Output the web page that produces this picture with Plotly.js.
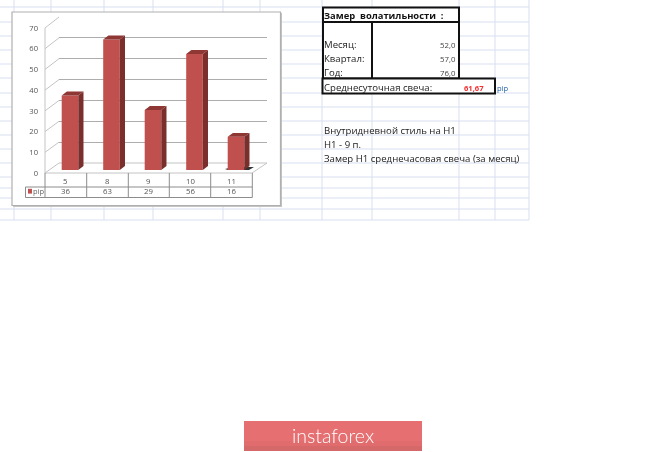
<!DOCTYPE html>
<html><head><meta charset="utf-8">
<script src="https://cdn.plot.ly/plotly-3.0.1.min.js"></script>
<style>html,body{margin:0;padding:0;background:#fff}#c{width:665px;height:452px;filter:blur(0.4px)}</style>
</head><body><div id="c"></div>
<script>
// ---- data ----
const categories = ['5','8','9','10','11'];
const pipValues = [36,63,29,56,16];
const seriesName = 'pip';
const yTicks = [0,10,20,30,40,50,60,70];
const sheetTitle = 'Замер  волатильности  :';
const rowLabels = ['Месяц:','Квартал:','Год:'];
const rowValues = ['52,0','57,0','76,0'];
const avgLabel = 'Среднесуточная свеча:';
const avgValue = '61,67';
const notes = ['Внутридневной стиль на H1','H1 - 9 п.','Замер H1 среднечасовая свеча (за месяц)'];
const brand = 'instaforex';

// ---- page geometry (pixels) ----
const W=665,H=452;
const X=p=>p/W, Y=p=>1-p/H;
const sheetH=[7,22,36,50,64,78,93,107,121,135,149,163,177,188,198,209,220];
const sheetV=[14,51,104,153,223,260,322,372,459,495,529];
const shapes=[], annotations=[];
const line=(x0,y0,x1,y1,c,w)=>shapes.push({type:'line',xref:'paper',yref:'paper',x0:X(x0),y0:Y(y0),x1:X(x1),y1:Y(y1),line:{color:c,width:w},layer:'below'});
const rect=(x0,y0,x1,y1,fill,c,w)=>shapes.push({type:'rect',xref:'paper',yref:'paper',x0:X(x0),y0:Y(y0),x1:X(x1),y1:Y(y1),fillcolor:fill,line:{color:c||'rgba(0,0,0,0)',width:w||0},layer:'below'});
const text=(x,y,t,size,color,anchor,bold,family,weight)=>{
  const a=anchor||'left';
  const sx=a==='left'?x-2.5:(a==='right'?x+1:x);
  annotations.push({xref:'paper',yref:'paper',x:X(sx),y:Y(y),text:bold?'<b>'+t+'</b>':t,showarrow:false,xanchor:a,yanchor:'middle',font:{size,color,family:family||'"Open Sans",sans-serif',weight:weight||400}});
};

// sheet grid
sheetH.forEach(y=>line(0,y,529,y,'#d8dfef',1));
sheetV.forEach(x=>line(x,0,x,220,'#d8dfef',1));

// chart frame
rect(13,13,282,207,'#c4c4c4');
rect(12,12,280.5,205.5,'#ffffff','#b0b0b0',1.2);

// 3D box: front plane 0..70 mapped to y 173..28, back plane to y 163..17
const front=v=>173-v*145/70, back=v=>163-v*146/70;
yTicks.forEach(v=>line(45,front(v),59,back(v),'#c4c4c4',1));
line(45,front(0),45,front(70),'#c4c4c4',1);
line(59,163,267,163,'#c4c4c4',1);
line(267,163,252,173,'#c4c4c4',1);
line(45,173,252,173,'#c4c4c4',1);
shapes.push({type:'path',xref:'paper',yref:'paper',layer:'below',fillcolor:'#333',line:{width:0},
  path:`M${X(225)},${Y(169)} L${X(233)},${Y(167)} L${X(254)},${Y(167)} L${X(249)},${Y(170)} L${X(228)},${Y(170)} Z`});

// data table below the chart
const tx=[45,86.7,128.3,169.3,210.7,252.3];
const tc='#8c8c8c';
tx.forEach(x=>line(x,173,x,197.5,tc,1));
line(25.5,187,252.3,187,tc,1);
line(25.5,197.5,252.3,197.5,tc,1);
line(25.5,187,25.5,197.5,tc,1);
rect(28,188.8,32,193.6,'#c0504d');
text(33,191.3,seriesName,7.5,'#666','left');
categories.forEach((c,i)=>{
  const m=(tx[i]+tx[i+1])/2;
  text(m,180.5,c,7.8,'#555','center');
  text(m,191.3,String(pipValues[i]),7.8,'#555','center');
});

// volatility block
rect(323,7.5,459,22,'#ffffff','#111',2);
rect(323,22,372,78.5,'#ffffff','#111',2);
rect(372,22,459,78.5,'#ffffff','#111',2);
rect(322.5,78.5,495,93.5,'#ffffff','#111',2);
text(324.5,15.5,sheetTitle,9.4,'#111','left',true);
rowLabels.forEach((l,i)=>text(324.5,44.5+i*14,l,9.6,'#222','left'));
rowValues.forEach((v,i)=>text(456.5,45+i*14,v,7.8,'#444','right'));
text(324.5,87,avgLabel,9.6,'#222','left');
text(485,87.5,avgValue,7.6,'#f03030','right',true);
text(497,88,seriesName,7.6,'#1f5fa8','left');
notes.forEach((n,i)=>text(324.5,130+i*14,n,9.6,'#222','left'));

// banner
rect(244,421,422,451,'#e66f72');
rect(244,441,422,446,'#e06c6e');
rect(244,446,422,451,'#d56868');
text(332.5,435.5,brand,19.5,'#ffffff','center',false,'Lato,sans-serif',300);

// ---- 3D faces computed from the values ----
const barW=0.4;           // in category units
const dx=0.125, dy=1.9;   // depth offset in axis units
const sideX=[],sideY=[],topX=[],topY=[];
pipValues.forEach((v,i)=>{
  const r=i+barW/2,l=i-barW/2;
  sideX.push(r,r+dx,r+dx,r,r,null);
  sideY.push(0,dy,v+dy,v,0,null);
  topX.push(l,l+dx,r+dx,r,l,null);
  topY.push(v,v+dy,v+dy,v,v,null);
});
const idx=categories.map((_,i)=>i);

const traces=[
 {type:'scatter',x:[0],y:[0],mode:'none',hoverinfo:'skip',showlegend:false},
 {type:'scatter',mode:'lines',x:sideX,y:sideY,xaxis:'x2',yaxis:'y2',fill:'toself',fillcolor:'#7b2f2d',line:{width:0},hoverinfo:'skip',showlegend:false},
 {type:'scatter',mode:'lines',x:topX,y:topY,xaxis:'x2',yaxis:'y2',fill:'toself',fillcolor:'#8e3735',line:{width:0},hoverinfo:'skip',showlegend:false},
 {type:'bar',x:idx,y:pipValues,xaxis:'x2',yaxis:'y2',width:barW,name:seriesName,marker:{color:'#c0504d',line:{width:0}},showlegend:false},
 {type:'scatter',x:[0],y:[0],xaxis:'x2',yaxis:'y3',mode:'none',hoverinfo:'skip',showlegend:false}
];

const layout={
 width:W,height:H,margin:{l:0,r:0,t:0,b:0},paper_bgcolor:'#fff',plot_bgcolor:'rgba(0,0,0,0)',
 showlegend:false,shapes,annotations,
 xaxis:{domain:[X(59),X(267)],range:[0,1],visible:false,fixedrange:true},
 yaxis:{domain:[Y(163),Y(17)],range:[0,70],tickvals:yTicks,showticklabels:false,ticks:'',
   showgrid:true,gridcolor:'#adadad',gridwidth:1.2,zeroline:false,showline:false,fixedrange:true},
 xaxis2:{domain:[X(49.25),X(256.75)],range:[-0.5,4.5],visible:false,fixedrange:true,anchor:'y2'},
 yaxis2:{domain:[Y(170),Y(25)],range:[0,70],visible:false,fixedrange:true,anchor:'x2'},
 yaxis3:{domain:[Y(173),Y(28)],range:[0,70],anchor:'free',position:X(38),side:'left',
   tickvals:yTicks,ticktext:yTicks.map(String),ticks:'',showgrid:false,zeroline:false,showline:false,
   tickfont:{size:7.6,color:'#555',family:'"Open Sans",sans-serif'},fixedrange:true},
 hovermode:false
};
Plotly.newPlot('c',traces,layout,{displayModeBar:false,staticPlot:true});
</script></body></html>
